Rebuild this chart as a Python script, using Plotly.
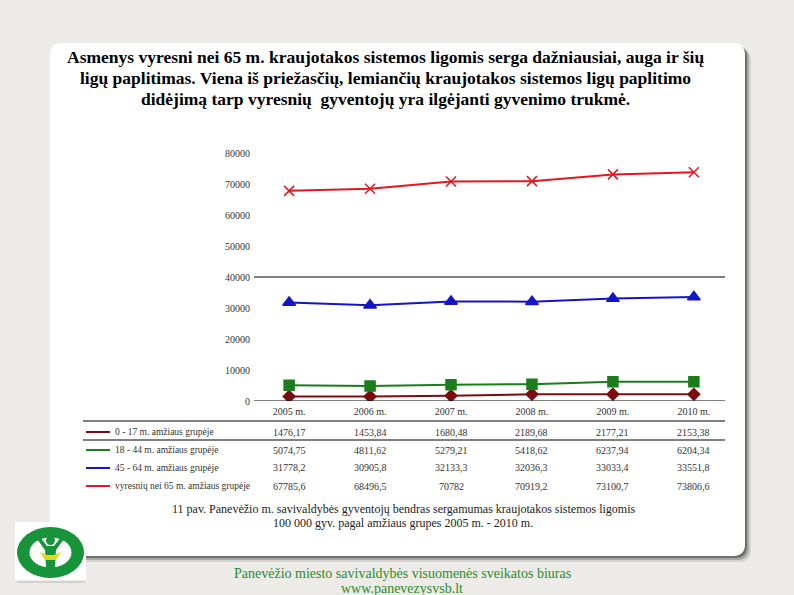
import plotly.graph_objects as go

# data
years = ["2005 m.", "2006 m.", "2007 m.", "2008 m.", "2009 m.", "2010 m."]
group_names = [
    "0 - 17 m. amžiaus grupėje",
    "18 - 44 m. amžiaus grupėje",
    "45 - 64 m. amžiaus grupėje",
    "vyresnių nei 65 m. amžiaus grupėje",
]
age_0_17 = [1476.17, 1453.84, 1680.48, 2189.68, 2177.21, 2153.38]
age_18_44 = [5074.75, 4811.62, 5279.21, 5418.62, 6237.94, 6204.34]
age_45_64 = [31778.2, 30905.8, 32133.3, 32036.3, 33033.4, 33551.8]
age_65_plus = [67785.6, 68496.5, 70782, 70919.2, 73100.7, 73806.6]
y_ticks = [0, 10000, 20000, 30000, 40000, 50000, 60000, 70000, 80000]

title_lines = [
    "Asmenys vyresni nei 65 m. kraujotakos sistemos ligomis serga dažniausiai, auga ir šių",
    "ligų paplitimas. Viena iš priežasčių, lemiančių kraujotakos sistemos ligų paplitimo",
    "didėjimą tarp vyresnių  gyventojų yra ilgėjanti gyvenimo trukmė.",
]
caption_lines = [
    "11 pav. Panevėžio m. savivaldybės gyventojų bendras sergamumas kraujotakos sistemos ligomis",
    "100 000 gyv. pagal amžiaus grupes 2005 m. - 2010 m.",
]
footer_lines = [
    "Panevėžio miesto savivaldybės visuomenės sveikatos biuras",
    "www.panevezysvsb.lt",
]

series = [age_0_17, age_18_44, age_45_64, age_65_plus]
colors = ["#7b0c10", "#1b7d1b", "#1414c8", "#e3171c"]
symbols = ["diamond", "square", "triangle-up", "x-thin"]
msizes = [9, 10, 11, 10]

W, H = 794, 595
L, R, T, B = 259, 70, 153, 194
PW, PH = W - L - R, H - T - B
SERIF = "Times New Roman"


def px(x):
    return (x - L) / PW


def py(y):
    return (H - B - y) / PH


def rrect(x0, y0, x1, y1, r):
    a0, a1 = px(x0), px(x1)
    b0, b1 = py(y0), py(y1)
    rx, ry = r / PW, r / PH
    return (f"M{a0 + rx},{b0} L{a1 - rx},{b0} Q{a1},{b0} {a1},{b0 - ry} "
            f"L{a1},{b1 + ry} Q{a1},{b1} {a1 - rx},{b1} L{a0 + rx},{b1} "
            f"Q{a0},{b1} {a0},{b1 + ry} L{a0},{b0 - ry} Q{a0},{b0} {a0 + rx},{b0} Z")


def fmt(v):
    return f"{v:g}".replace(".", ",")


fig = go.Figure()

for name, vals, c, s, ms in zip(group_names, series, colors, symbols, msizes):
    fig.add_trace(go.Scatter(
        x=years, y=vals, mode="lines+markers", name=name,
        line=dict(color=c, width=2),
        marker=dict(symbol=s, size=ms, color=c, line=dict(color=c, width=1.5)),
        showlegend=False))

# legend samples drawn next to the table rows
row_y = [432, 450, 468, 486]
for c, s, ms, yy in zip(colors, symbols, msizes, row_y):
    fig.add_trace(go.Scatter(
        x=[98], y=[yy], xaxis="x2", yaxis="y2", mode="markers",
        marker=dict(symbol=s, size=ms - 1, color=c, line=dict(color=c, width=1.5)),
        cliponaxis=False, showlegend=False, hoverinfo="skip"))

shapes = []
# page panel with shadow
for off, op in [(6, 0.12), (4, 0.25), (2, 0.45)]:
    shapes.append(dict(type="path", xref="paper", yref="paper",
                       path=rrect(50 + off, 43 + off, 745 + off, 556 + off, 12),
                       fillcolor=f"rgba(40,40,40,{op})", line=dict(width=0), layer="below"))
shapes.append(dict(type="path", xref="paper", yref="paper",
                   path=rrect(50, 43, 745, 556, 12),
                   fillcolor="white", line=dict(width=0), layer="below"))
# axis line at 0 and odd grid line at 40000
for yv in [0, 40000]:
    shapes.append(dict(type="line", xref="paper", yref="y", x0=px(254), x1=px(725),
                       y0=yv, y1=yv, line=dict(color="black", width=1)))
# table rules
for yy in [421, 440]:
    shapes.append(dict(type="line", xref="paper", yref="paper", x0=px(83), x1=px(725),
                       y0=py(yy), y1=py(yy), line=dict(color="black", width=1)))
# legend sample lines
for c, yy in zip(colors, row_y):
    shapes.append(dict(type="line", xref="paper", yref="paper", x0=px(86), x1=px(110),
                       y0=py(yy), y1=py(yy), line=dict(color=c, width=2)))

# logo
shapes.append(dict(type="rect", xref="paper", yref="paper", x0=px(15), x1=px(86),
                   y0=py(522), y1=py(580), fillcolor="white", line=dict(width=0)))
shapes.append(dict(type="line", xref="paper", yref="paper", x0=px(17), x1=px(85),
                   y0=py(582), y1=py(582), line=dict(color="#b8b8b8", width=1)))
shapes.append(dict(type="circle", xref="paper", yref="paper", x0=px(17), x1=px(84),
                   y0=py(527), y1=py(578), fillcolor="#17943a", line=dict(width=0)))
shapes.append(dict(type="circle", xref="paper", yref="paper", x0=px(29), x1=px(72),
                   y0=py(537), y1=py(568), fillcolor="white",
                   line=dict(color="#17943a", width=1)))
shapes.append(dict(type="path", xref="paper", yref="paper",
                   path=(f"M{px(37)},{py(539)} L{px(45)},{py(550)} L{px(46)},{py(568)} "
                         f"L{px(55)},{py(568)} L{px(56)},{py(550)} L{px(64)},{py(539)} "
                         f"L{px(61)},{py(537)} L{px(54)},{py(546)} L{px(47)},{py(546)} "
                         f"L{px(40)},{py(537)} Z"),
                   fillcolor="#17943a", line=dict(width=0)))
shapes.append(dict(type="circle", xref="paper", yref="paper", x0=px(46), x1=px(55),
                   y0=py(536), y1=py(545), fillcolor="#17943a", line=dict(width=0)))
shapes.append(dict(type="path", xref="paper", yref="paper",
                   path=(f"M{px(40)},{py(552)} L{px(47)},{py(555)} L{px(54)},{py(555)} "
                         f"L{px(61)},{py(552)} L{px(56)},{py(560)} L{px(45)},{py(560)} Z"),
                   fillcolor="#e6d51a", line=dict(width=0)))

annotations = []
for i, line in enumerate(title_lines):
    annotations.append(dict(text=f"<b>{line}</b>", xref="paper", yref="paper",
                            x=px(385), y=py(57 + 21 * i), showarrow=False,
                            xanchor="center", yanchor="middle",
                            font=dict(family=SERIF, size=17.5, color="black")))
for name, vals, yy in zip(group_names, series, row_y):
    annotations.append(dict(text=name, xref="paper", yref="paper", x=px(113), y=py(yy),
                            showarrow=False, xanchor="left", yanchor="middle",
                            font=dict(family=SERIF, size=9.5, color="#333")))
    for yr, v in zip(years, vals):
        annotations.append(dict(text=fmt(v), xref="x", yref="paper", x=yr, y=py(yy),
                                showarrow=False, xanchor="center", yanchor="middle",
                                font=dict(family=SERIF, size=10, color="#333")))
for i, line in enumerate(caption_lines):
    annotations.append(dict(text=line, xref="paper", yref="paper",
                            x=px(403), y=py(509 + 14 * i), showarrow=False,
                            xanchor="center", yanchor="middle",
                            font=dict(family=SERIF, size=12, color="#222")))
for i, line in enumerate(footer_lines):
    annotations.append(dict(text=line, xref="paper", yref="paper",
                            x=px(402), y=py(573 + 15 * i), showarrow=False,
                            xanchor="center", yanchor="middle",
                            font=dict(family=SERIF, size=14, color="#2b8c2b")))

fig.update_layout(
    width=W, height=H,
    margin=dict(l=L, r=R, t=T, b=B),
    paper_bgcolor="#ecebe7",
    plot_bgcolor="rgba(0,0,0,0)",
    showlegend=False,
    font=dict(family=SERIF),
    xaxis=dict(type="category", showgrid=False, zeroline=False, showline=False,
               ticks="outside", ticklen=1, tickcolor="rgba(0,0,0,0)",
               tickfont=dict(family=SERIF, size=10, color="#333")),
    yaxis=dict(range=[0, 80000], tickvals=y_ticks, tickformat="d", showgrid=False,
               zeroline=False, showline=False, ticks="outside", ticklen=6,
               tickcolor="rgba(0,0,0,0)",
               tickfont=dict(family=SERIF, size=10, color="#333")),
    xaxis2=dict(overlaying="x", range=[L, W - R], visible=False),
    yaxis2=dict(overlaying="y", range=[H - B, T], visible=False),
    shapes=shapes,
    annotations=annotations,
)

# drop the default page margin so the figure sits at the window's corner
fig.write_html("out.html", config={"displayModeBar": False},
               post_script="document.body.style.margin='0';")
